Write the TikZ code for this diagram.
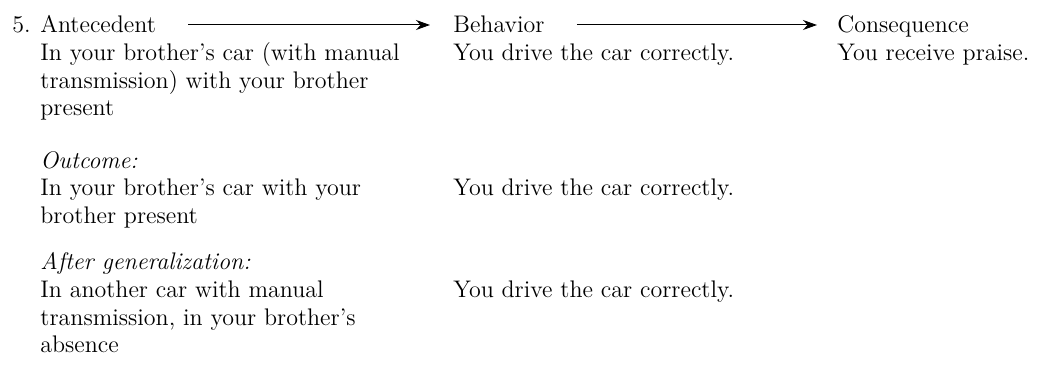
\documentclass[tikz,border=0pt]{standalone}
\usepackage{tikz}
\usetikzlibrary{arrows.meta}
\tikzstyle{txt} = [anchor=base west, inner sep=0pt, align=left, font=\fontsize{12}{13.75}\selectfont]
\tikzstyle{arrow} = [draw, line width=0.5pt, -{Stealth[length=7pt, width=5pt]}]

\begin{document}
\begin{tikzpicture}[x=0.5pt, y=-0.5pt]
    \useasboundingbox (0, 0) rectangle (1040, 373);

    % headings
    \node[txt] at (12, 33) (num) {5.};
    \node[txt] at (40, 33) (ante) {Antecedent};
    \node[txt] at (453, 33) (behav) {Behavior};
    \node[txt] at (837, 33) (cons) {Consequence};

    \path[arrow] ([xshift=16pt, yshift=4pt]ante.base east) -- ([xshift=-11.5pt, yshift=4pt]behav.base west);
    \path[arrow] ([xshift=16pt, yshift=4pt]behav.base east) -- ([xshift=-10pt, yshift=4pt]cons.base west);

    % first case (base = last line)
    \node[txt] at (40, 116) (ante0) {In your brother's car (with manual\\transmission) with your brother\\present};
    \node[txt] at (453, 61) (behav0) {You drive the car correctly.};
    \node[txt] at (837, 61) (cons0) {You receive praise.};

    % outcome
    \node[txt] at (40, 169) (outlabel) {\itshape Outcome:};
    \node[txt] at (40, 223.5) (ante1) {In your brother's car with your\\brother present};
    \node[txt] at (453, 196) (behav1) {You drive the car correctly.};

    % after generalization
    \node[txt] at (40, 270) (genlabel) {\itshape After generalization:};
    \node[txt] at (40, 353) (ante2) {In another car with manual\\transmission, in your brother's\\absence};
    \node[txt] at (453, 298) (behav2) {You drive the car correctly.};

\end{tikzpicture}
\end{document}
